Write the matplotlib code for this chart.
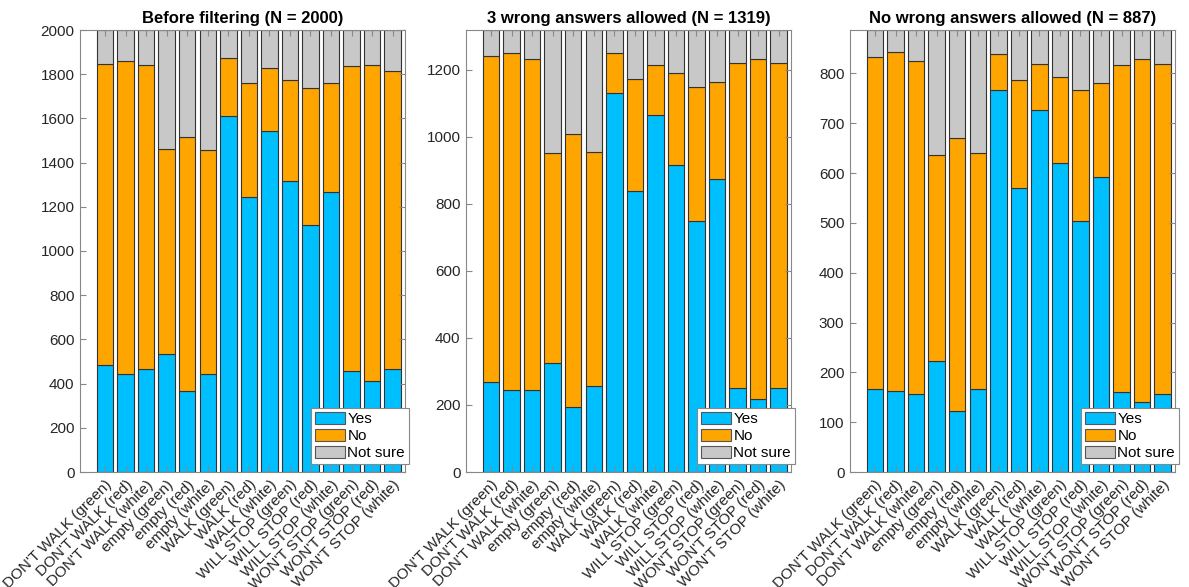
import numpy as np
import matplotlib
matplotlib.use("Agg")
import matplotlib.pyplot as plt
from matplotlib.patches import Patch

plt.rcParams['font.family'] = ['Liberation Sans', 'DejaVu Sans']

categories = ["DON'T WALK (green)", "DON'T WALK (red)", "DON'T WALK (white)",
              "empty (green)", "empty (red)", "empty (white)",
              "WALK (green)", "WALK (red)", "WALK (white)",
              "WILL STOP (green)", "WILL STOP (red)", "WILL STOP (white)",
              "WON'T STOP (green)", "WON'T STOP (red)", "WON'T STOP (white)"]

titles = ["Before filtering (N = 2000)",
          "3 wrong answers allowed (N = 1319)",
          "No wrong answers allowed (N = 887)"]
n_totals = [2000, 1319, 887]

yes_all = [485, 445, 465, 535, 365, 445, 1612, 1243, 1543, 1315, 1117, 1265, 457, 410, 465]
no_all = [1360, 1413, 1377, 927, 1152, 1010, 263, 515, 285, 460, 620, 495, 1378, 1430, 1350]
notsure_all = [155, 142, 158, 538, 483, 545, 125, 242, 172, 225, 263, 240, 165, 160, 185]

yes_3 = [270, 245, 245, 325, 193, 258, 1130, 840, 1065, 915, 750, 873, 250, 218, 250]
no_3 = [970, 1005, 988, 628, 817, 697, 120, 333, 150, 275, 400, 292, 970, 1015, 970]
notsure_3 = [79, 69, 86, 366, 309, 364, 69, 146, 104, 129, 169, 154, 99, 86, 99]

yes_0 = [167, 162, 157, 222, 123, 166, 767, 569, 727, 621, 503, 592, 160, 141, 157]
no_0 = [665, 680, 668, 414, 547, 475, 71, 218, 92, 172, 263, 188, 657, 688, 662]
notsure_0 = [55, 45, 62, 251, 217, 246, 49, 100, 68, 94, 121, 107, 70, 58, 68]

panels = [(yes_all, no_all, notsure_all), (yes_3, no_3, notsure_3), (yes_0, no_0, notsure_0)]
ystep = [200, 200, 100]

c_yes, c_no, c_ns = '#00BFFF', '#FFA500', '#C8C8C8'
edge = '#333333'
spine = '#888888'
txt = '#262626'

fig = plt.figure(figsize=(11.89, 5.87), dpi=100)
lefts = [80, 466, 850]
W, H = 1189, 587

x = np.arange(1, len(categories) + 1)
for i, (yes, no, ns) in enumerate(panels):
    ax = fig.add_axes([lefts[i] / W, (H - 472) / H, 325 / W, 442 / H])
    yes, no, ns = np.array(yes), np.array(no), np.array(ns)
    kw = dict(width=0.8, edgecolor=edge, linewidth=0.8)
    ax.bar(x, yes, color=c_yes, **kw)
    ax.bar(x, no, bottom=yes, color=c_no, **kw)
    ax.bar(x, ns, bottom=yes + no, color=c_ns, **kw)
    ax.set_xlim(-0.22, 15.6)
    ax.set_ylim(0, n_totals[i])
    ax.set_yticks(np.arange(0, n_totals[i] + 1, ystep[i]))
    ax.set_xticks(x)
    ax.set_xticklabels(categories, rotation=45, ha='right', rotation_mode='anchor')
    ax.tick_params(direction='in', top=True, right=True, labelsize=11, colors=spine,
                   labelcolor=txt, length=4, width=0.8, pad=4)
    for s in ax.spines.values():
        s.set_color(spine)
        s.set_linewidth(0.8)
    ax.set_title(titles[i], fontsize=12, fontweight='bold', color='black', pad=5)
    handles = [Patch(facecolor=c, edgecolor='#555555', linewidth=0.8) for c in (c_yes, c_no, c_ns)]
    leg = ax.legend(handles, ['Yes', 'No', 'Not sure'], loc='lower right',
                    bbox_to_anchor=(1.012, 0.018), fontsize=11,
                    fancybox=False, framealpha=1, edgecolor=spine, handlelength=2.0,
                    handleheight=0.9, labelspacing=0.15, handletextpad=0.15,
                    borderpad=0.25, borderaxespad=0.0)
    leg.get_frame().set_linewidth(0.8)

fig.savefig('out.png', dpi=100)
